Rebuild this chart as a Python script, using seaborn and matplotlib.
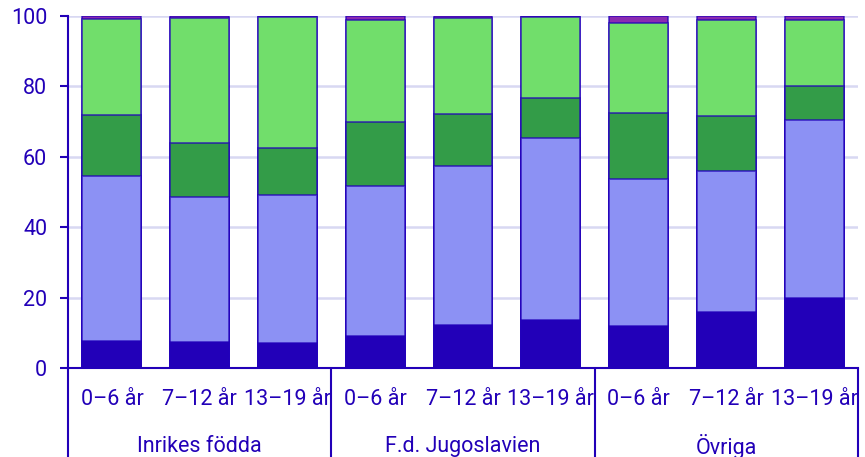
import matplotlib
matplotlib.use('Agg')
import matplotlib.pyplot as plt
import matplotlib.transforms as mtransforms
import seaborn as sns
import pandas as pd

# Data (percent), one value per bar
groups = ['Inrikes födda', 'F.d. Jugoslavien', 'Övriga']
ages = ['0–6 år', '7–12 år', '13–19 år']

layer1 = [7.7, 7.5, 7.1, 9.2, 12.2, 13.7, 12.0, 15.8, 19.8]
layer2 = [46.8, 41.2, 42.0, 42.5, 45.2, 51.6, 41.8, 40.3, 50.7]
layer3 = [17.4, 15.1, 13.3, 18.2, 14.8, 11.3, 18.7, 15.5, 9.6]
layer4 = [27.2, 35.5, 37.4, 29.1, 27.1, 23.0, 25.6, 27.3, 18.8]
layer5 = [0.9, 0.7, 0.2, 1.0, 0.7, 0.4, 1.9, 1.1, 1.1]

colors = ['#2200b8', '#8c91f4', '#339c48', '#71de6b', '#8a2bb0']
text_color = '#2200b8'

sns.set_style('white')
plt.rcParams['font.family'] = ['Roboto', 'DejaVu Sans']

keys = [f'{g}|{a}' for g in groups for a in ages]
df = pd.DataFrame({'key': keys, 'l1': layer1, 'l2': layer2, 'l3': layer3,
                   'l4': layer4, 'l5': layer5})
layers = ['l1', 'l2', 'l3', 'l4', 'l5']

fig = plt.figure(figsize=(8.65, 4.57), dpi=100)
ax = fig.add_axes([68 / 865, 89 / 457, 790 / 865, 352 / 457])

# draw cumulative bars from the top layer down so each segment shows
for i in range(len(layers) - 1, -1, -1):
    cum = df[layers[:i + 1]].sum(axis=1)
    sns.barplot(x=df['key'], y=cum, color=colors[i], order=keys, width=0.67,
                edgecolor=(0.13, 0.0, 0.73, 0.75), linewidth=1.2,
                saturation=1, ax=ax, zorder=3)

ax.set_ylim(0, 100)
ax.set_xlim(-0.5, 8.5)
ax.set_yticks([0, 20, 40, 60, 80, 100])
ax.yaxis.grid(True, color='#d8d8f2', linewidth=1.8, zorder=0)
ax.set_axisbelow(True)
ax.set_xlabel('')
ax.set_ylabel('')

for s in ['top', 'right']:
    ax.spines[s].set_visible(False)
for s in ['left', 'bottom']:
    ax.spines[s].set_color(text_color)
    ax.spines[s].set_linewidth(1.5)

ax.tick_params(axis='y', colors=text_color, labelsize=15.5, length=6,
               width=1.5, left=True, pad=9)
ax.set_xticks(range(len(keys)))
ax.set_xticklabels(ages * len(groups), fontsize=15.5, color=text_color)
ax.tick_params(axis='x', length=0, pad=15)

# group separators and group labels below the axis
trans = mtransforms.blended_transform_factory(ax.transData, ax.transAxes)
for xb in [-0.5, 2.5, 5.5, 8.5]:
    ax.plot([xb, xb], [0, -0.3], transform=trans, color=text_color,
            linewidth=1.5, clip_on=False)
for j, g in enumerate(groups):
    ax.text(3 * j + 1, -0.222, g, transform=trans, ha='center', va='center',
            fontsize=15.5, color=text_color)

fig.savefig('out.png', dpi=100)
